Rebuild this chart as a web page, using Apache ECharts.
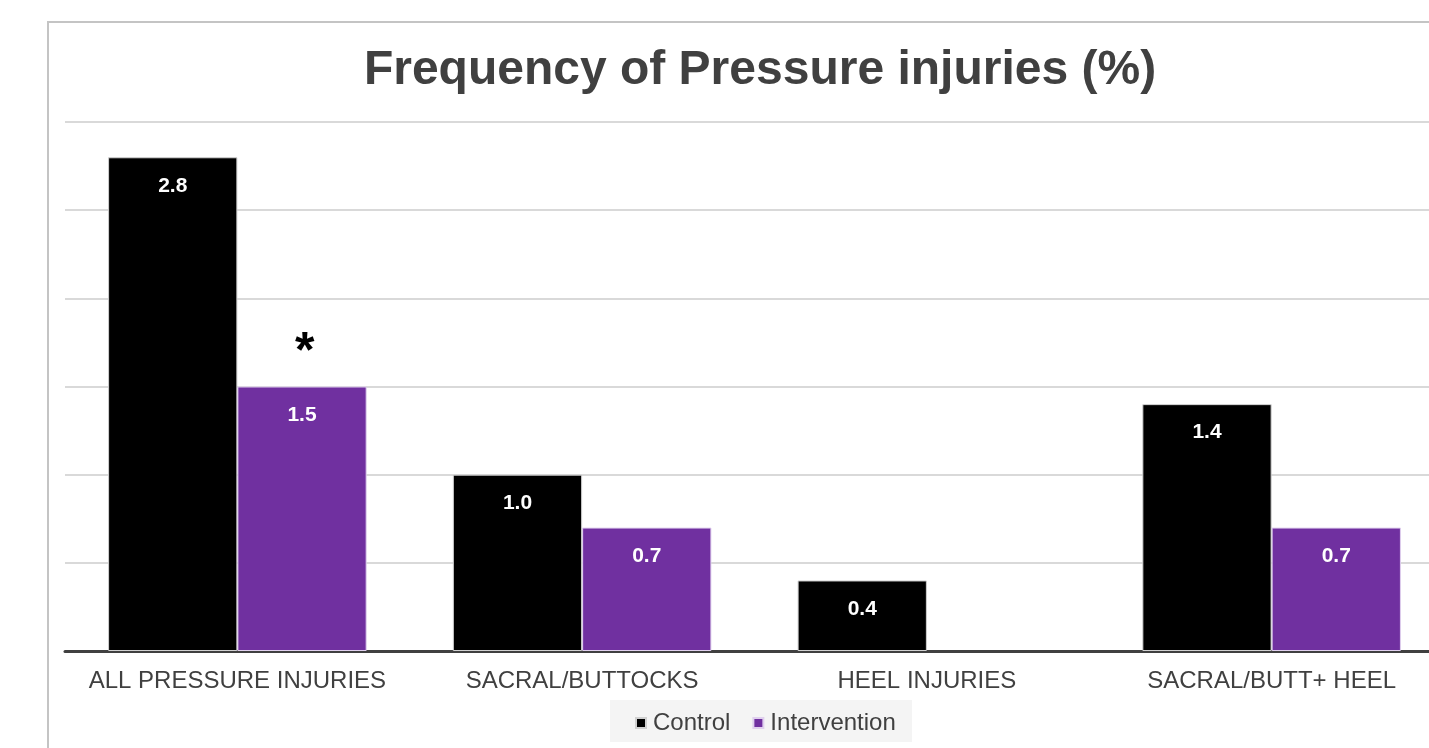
<!DOCTYPE html>
<html><head><meta charset="utf-8">
<script src="https://cdn.jsdelivr.net/npm/echarts@6/dist/echarts.min.js"></script>
<style>html,body{margin:0;padding:0;background:#fff;overflow:hidden}#c{width:1470px;height:748px}</style>
</head><body><div id="c"></div>
<script>
const categories = ['ALL PRESSURE INJURIES', 'SACRAL/BUTTOCKS', 'HEEL INJURIES', 'SACRAL/BUTT+ HEEL'];
const controlValues = [2.8, 1.0, 0.4, 1.4];
const interventionValues = [1.5, 0.7, 0.0, 0.7];
const yTicks = [0, 0.5, 1, 1.5, 2, 2.5, 3];

const chart = echarts.init(document.getElementById('c'));
const labelStyle = {show: true, position: 'insideTop', distance: 18, color: '#fff', fontFamily: 'Liberation Sans, Arial', fontWeight: 'bold', fontSize: 21,
  formatter: p => p.value > 0 ? p.value.toFixed(1) : ''};
chart.setOption({
  animation: false,
  title: {text: 'Frequency of Pressure injuries (%)', left: 755, textAlign: 'center', top: 42,
    textStyle: {fontFamily: 'Liberation Sans, Arial', fontWeight: 'bold', fontSize: 48, color: '#404040'}},
  graphic: [
    {type: 'rect', shape: {x: 48, y: 22, width: 1500, height: 800}, style: {fill: 'none', stroke: '#c4c4c4', lineWidth: 2}, silent: true, z: -1},
    {type: 'rect', shape: {x: 610, y: 700, width: 302, height: 42}, style: {fill: '#f4f4f4'}, silent: true, z: -1},
    {type: 'text', left: 295, top: 328, style: {text: '*', fontFamily: 'Liberation Sans, Arial', fontWeight: 'bold', fontSize: 50, fill: '#000'}}
  ],
  legend: {top: 706, left: 630, itemWidth: 10, itemHeight: 10, itemGap: 22,
    textStyle: {fontFamily: 'Liberation Sans, Arial', fontSize: 24, color: '#404040', padding: [0,0,0,2]},
    data: [{name: 'Control', icon: 'rect'}, {name: 'Intervention', icon: 'rect'}]},
  grid: {left: 65, top: 122, right: 26, height: 529, containLabel: false},
  xAxis: {type: 'category', data: categories,
    axisLine: {lineStyle: {color: '#404040', width: 3}}, axisTick: {show: false},
    axisLabel: {interval: 0, fontFamily: 'Liberation Sans, Arial', fontSize: 24, color: '#404040', margin: 18}},
  yAxis: {type: 'value', min: 0, max: 3, interval: 0.5, axisLabel: {show: false},
    axisLine: {show: false}, axisTick: {show: false},
    splitLine: {lineStyle: {color: '#d9d9d9', width: 2}}},
  series: [
    {name: 'Control', type: 'bar', data: controlValues, barGap: '0%', barCategoryGap: '25%',
      itemStyle: {color: '#000000', borderColor: '#d0d0d0', borderWidth: 1}, label: labelStyle},
    {name: 'Intervention', type: 'bar', data: interventionValues.map(v => v > 0 ? v : {value: v, itemStyle: {borderWidth: 0, opacity: 0}}),
      itemStyle: {color: '#7030A0', borderColor: '#e0d0ee', borderWidth: 1}, label: labelStyle}
  ]
});
</script></body></html>
